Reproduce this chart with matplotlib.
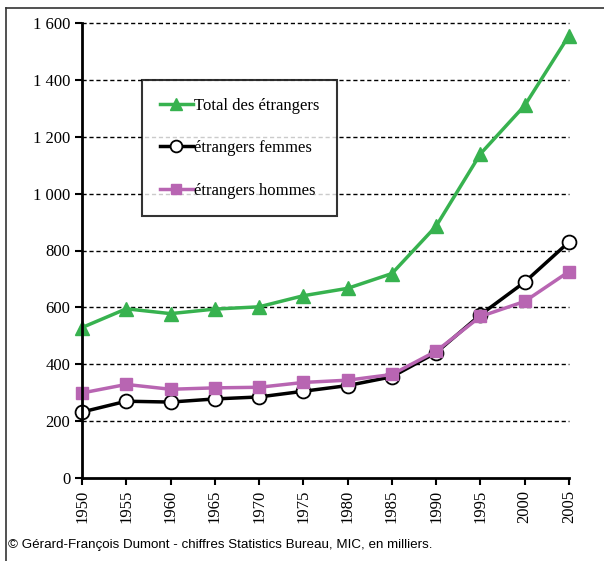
import matplotlib.pyplot as plt
from matplotlib.lines import Line2D
from matplotlib.ticker import FuncFormatter

# data, in thousands
years = [1950, 1955, 1960, 1965, 1970, 1975, 1980, 1985, 1990, 1995, 2000, 2005]
total = [529, 595, 578, 594, 602, 641, 667, 719, 886, 1140, 1310, 1556]
femmes = [232, 270, 267, 278, 285, 305, 325, 356, 441, 574, 689, 830]
hommes = [299, 329, 312, 317, 319, 336, 344, 364, 446, 568, 621, 726]

labels = ["Total des étrangers", "étrangers femmes", "étrangers hommes"]
green = "#37b24f"
pink = "#b865b2"

fig = plt.figure(figsize=(6.04, 5.61), dpi=100)
ax = fig.add_axes([82 / 604, 1 - 478 / 561, (569 - 82) / 604, (478 - 23) / 561])

ax.plot(years, total, color=green, lw=2.5, marker="^", ms=10, mec=green, label=labels[0], zorder=3)
ax.plot(years, femmes, color="black", lw=2.5, marker="o", ms=10, mfc="white", mec="black", mew=1.3,
        label=labels[1], zorder=4)
ax.plot(years, hommes, color=pink, lw=2.5, marker="s", ms=9, mec=pink, label=labels[2], zorder=5)

ax.set_xlim(1950, 2005)
ax.set_ylim(0, 1600)
ax.set_xticks(years)
ax.set_yticks(range(0, 1601, 200))
ax.yaxis.set_major_formatter(FuncFormatter(lambda v, p: f"{int(v):,}".replace(",", " ")))

# dashed horizontal grid
for v in range(200, 1601, 200):
    ax.axhline(v, color="black", lw=1, ls=(0, (3, 2)), zorder=1)

for s in ["top", "right"]:
    ax.spines[s].set_visible(False)
for s in ["left", "bottom"]:
    ax.spines[s].set_linewidth(2)
ax.spines["left"].set_zorder(6)
ax.spines["bottom"].set_zorder(6)
ax.tick_params(direction="out", length=5, width=1.5, labelsize=12)
for lab in ax.get_xticklabels():
    lab.set_rotation(90)
    lab.set_fontfamily("Liberation Serif")
for lab in ax.get_yticklabels():
    lab.set_fontfamily("Liberation Serif")
for l in ax.lines:
    l.set_clip_on(False)

leg = ax.legend(loc="upper left", bbox_to_anchor=((142 - 82) / 487, 1 - (80 - 23) / 455),
                prop={"family": "Liberation Serif", "size": 12}, frameon=True, fancybox=False,
                edgecolor="black", labelspacing=1.6, handlelength=2.0, handletextpad=0.1,
                borderpad=1.05, borderaxespad=0, markerscale=0.85)
leg.get_frame().set_linewidth(1.5)
leg.set_zorder(10)

fig.text(8 / 604, 1 - 545 / 561, "© Gérard-François Dumont - chiffres Statistics Bureau, MIC, en milliers.",
         fontsize=9.6, family="Liberation Sans", va="center", ha="left")

# outer frame (top and left only, cropped image)
fig.add_artist(Line2D([6 / 604, 1], [1 - 8 / 561, 1 - 8 / 561], color="#333333", lw=1.2))
fig.add_artist(Line2D([6 / 604, 6 / 604], [0, 1 - 8 / 561], color="#333333", lw=1.2))

fig.savefig("out.png", dpi=100)
